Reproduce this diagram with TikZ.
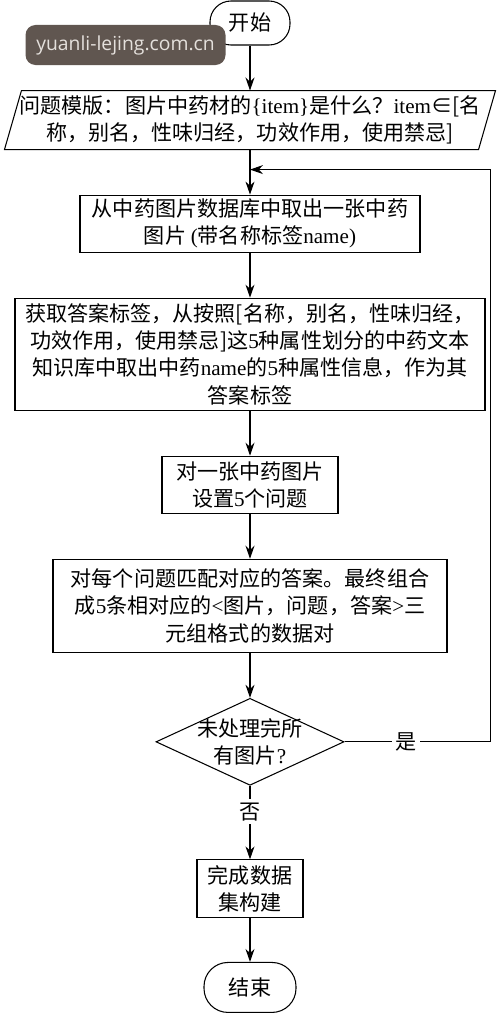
\documentclass[tikz,border=0pt]{standalone}
\usepackage{fontspec}
\setmainfont{Noto Sans CJK SC}
\newfontfamily\lat{Liberation Serif}
\newfontfamily\wmfont{Open Sans}
\usepackage{xcolor}
\usetikzlibrary{positioning,shapes.geometric,arrows.meta}
\definecolor{wmgray}{RGB}{96,86,80}
\definecolor{wmtext}{RGB}{228,224,220}
\newcommand{\la}[1]{{\lat #1}}

\begin{document}
\begin{tikzpicture}[
    node distance=0.9cm,
    font=\fontsize{12}{15.5}\selectfont,
    box/.style={rectangle, draw, line width=0.6pt, align=center, inner sep=1pt},
    terminal/.style={rectangle, draw, line width=0.6pt, rounded corners=0.42cm, minimum width=1.6cm, minimum height=0.88cm},
    decision/.style={diamond, draw, line width=0.6pt, minimum width=3.76cm, minimum height=1.74cm, inner sep=0pt},
    arrow/.style={->, >={Stealth[length=2.6mm,width=1.8mm]}, line width=0.6pt},
    tag/.style={fill=white, inner sep=2pt}
]
    \useasboundingbox (0,0) rectangle (10,-20.32);
    \node[terminal] (start) at (5,-0.46) {开始};
    \node[box, draw=none, minimum width=9.46cm, minimum height=1.16cm, below=of start] (tmpl)
        {问题模版：图片中药材的\la{\{item\}}是什么？\la{item}∈[名\\称，别名，性味归经，功效作用，使用禁忌]};
    \draw[line width=0.6pt] ([xshift=0.17cm]tmpl.north west) -- ([xshift=0.17cm]tmpl.north east)
        -- ([xshift=-0.17cm]tmpl.south east) -- ([xshift=-0.17cm]tmpl.south west) -- cycle;
    \node[box, minimum width=6.8cm, minimum height=1.14cm, below=of tmpl] (fetch)
        {从中药图片数据库中取出一张中药\\图片 \la{(}带名称标签\la{name)}};
    \node[box, minimum width=9.4cm, minimum height=2.24cm, below=of fetch] (label)
        {获取答案标签，从按照[名称，别名，性味归经，\\功效作用，使用禁忌]这\la{5}种属性划分的中药文本\\知识库中取出中药\la{name}的\la{5}种属性信息，作为其\\答案标签};
    \node[box, minimum width=3.52cm, minimum height=1.14cm, below=of label] (question)
        {对一张中药图片\\设置\la{5}个问题};
    \node[box, minimum width=7.88cm, minimum height=1.86cm, below=of question] (match)
        {对每个问题匹配对应的答案。最终组合\\成\la{5}条相对应的\la{<}图片，问题，答案\la{>}三\\元组格式的数据对};
    \node[decision, below=of match, label={[align=center]center:未处理完所\\有图片\la{?}}] (check) {};
    \node[box, minimum width=2.12cm, minimum height=1.16cm, below=1.47cm of check] (done)
        {完成数据\\集构建};
    \node[terminal, minimum width=1.84cm, minimum height=1.0cm, rounded corners=0.48cm, below=0.87cm of done] (end) {结束};

    % watermark over the start node
    \node[fill=wmgray, rounded corners=0.2cm, minimum width=4cm, minimum height=0.8cm,
          text=wmtext, font=\wmfont\fontsize{11}{13}\selectfont] (mark) at (2.51,-0.9) {yuanli-lejing.com.cn};

    \coordinate (back) at ([yshift=-0.4cm]tmpl.south);

    \draw[arrow] (start) -- (tmpl);
    \draw[arrow] (tmpl) -- (fetch);
    \draw[arrow] (fetch) -- (label);
    \draw[arrow] (label) -- (question);
    \draw[arrow] (question) -- (match);
    \draw[arrow] (match) -- (check);
    \draw[arrow] (check.south) -- node[tag, pos=0.35] {否} (done);
    \draw[arrow] (done) -- (end);
    \draw[arrow] (check.east) -- node[tag, pos=0.42] {是} ++(2.92,0) |- (back);
\end{tikzpicture}
\end{document}
